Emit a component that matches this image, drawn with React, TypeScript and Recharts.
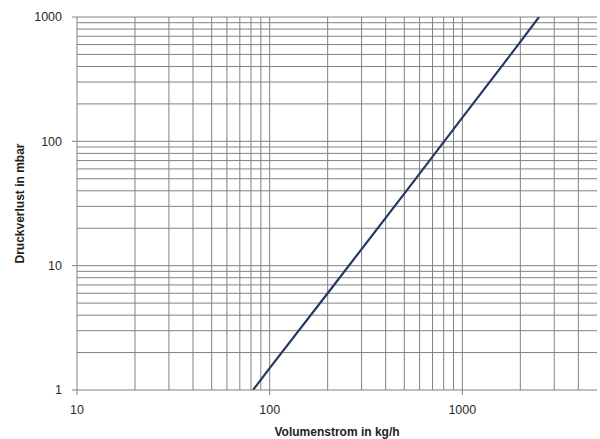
import React from "react";
import {
  LineChart,
  Line,
  XAxis,
  YAxis,
  ReferenceLine,
  Label,
} from "recharts";

const flowRates = [82, 100, 200, 500, 1000, 2000, 2500];
const pressureDrops = [1, 1.5, 6, 38, 155, 630, 1000];

const xTicks = [10, 100, 1000];
const yTicks = [1, 10, 100, 1000];

// Hilfslinien im log-Raster
const xGridValues = [
  20, 30, 40, 50, 60, 70, 80, 90, 100, 200, 300, 400, 500, 600, 700, 800, 900,
  1000, 2000, 3000, 4000,
];
const yGridValues = [
  2, 3, 4, 5, 6, 7, 8, 9, 10, 20, 30, 40, 50, 60, 70, 80, 90, 100, 200, 300,
  400, 500, 600, 700, 800, 900, 1000,
];

const data = flowRates.map((flow, i) => ({
  flow,
  pressure: pressureDrops[i],
}));

const GRID = "#828282";
const FONT = "'Liberation Sans', Arial, sans-serif";

const App: React.FC = () => {
  return (
    <div style={{ position: "absolute", left: 0, top: 0, width: 600, height: 439 }}>
      <LineChart
        width={600}
        height={439}
        data={data}
        margin={{ top: 17, right: 3, left: 0, bottom: 0 }}
      >
        <XAxis
          dataKey="flow"
          type="number"
          scale="log"
          domain={[10, 5000]}
          ticks={xTicks}
          allowDataOverflow
          height={49}
          stroke={GRID}
          tickSize={5}
          tickMargin={10}
          tick={{ fill: "#2a2a2a", fontSize: 12.5, fontFamily: FONT }}
        >
          <Label
            content={({ viewBox }: any) => (
              <text
                x={viewBox.x + viewBox.width / 2}
                y={436}
                textAnchor="middle"
                fill="#1e1e1e"
                fontSize={12}
                fontWeight="bold"
                fontFamily={FONT}
              >
                Volumenstrom in kg/h
              </text>
            )}
          />
        </XAxis>
        <YAxis
          type="number"
          scale="log"
          domain={[1, 1000]}
          ticks={yTicks}
          allowDataOverflow
          width={77}
          stroke={GRID}
          tickSize={5}
          tickMargin={10}
          tick={{ fill: "#2a2a2a", fontSize: 12.5, fontFamily: FONT }}
        >
          <Label
            content={({ viewBox }: any) => {
              const cx = 20;
              const cy = viewBox.y + viewBox.height / 2;
              return (
                <text
                  x={cx}
                  y={cy}
                  transform={`rotate(-90 ${cx} ${cy})`}
                  textAnchor="middle"
                  dominantBaseline="central"
                  fill="#1e1e1e"
                  fontSize={12}
                  fontWeight="bold"
                  fontFamily={FONT}
                >
                  Druckverlust in mbar
                </text>
              );
            }}
          />
        </YAxis>
        {xGridValues.map((v) => (
          <ReferenceLine key={`x${v}`} x={v} stroke={GRID} strokeWidth={1} />
        ))}
        {yGridValues.map((v) => (
          <ReferenceLine key={`y${v}`} y={v} stroke={GRID} strokeWidth={1} />
        ))}
        <Line
          type="linear"
          dataKey="pressure"
          stroke="#243a63"
          strokeWidth={2.2}
          dot={false}
          isAnimationActive={false}
        />
      </LineChart>
    </div>
  );
};

export default App;
